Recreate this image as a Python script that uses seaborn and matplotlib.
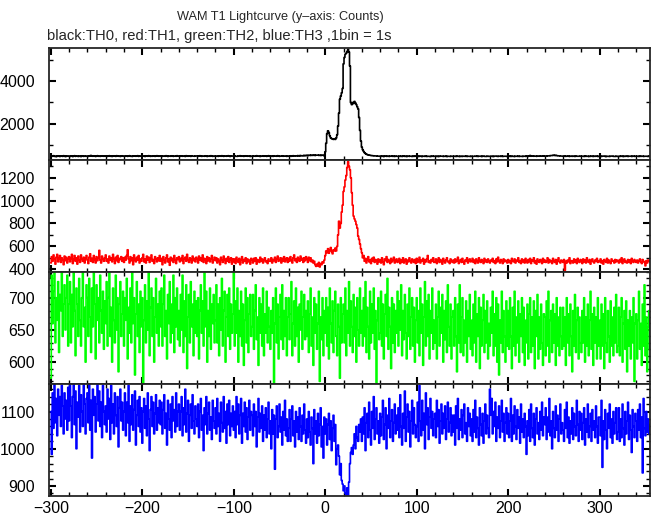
import numpy as np
import pandas as pd
import matplotlib
matplotlib.use("Agg")
import matplotlib.pyplot as plt
from matplotlib.ticker import MultipleLocator
import seaborn as sns

# 1 s bins starting at t = -300 s, 20 bins per row (20 s per row)
t_start = -300
bin_width = 1

th0_black = [
    480, 510, 495, 520, 490, 505, 475, 500, 515, 495, 485, 510, 500, 490, 520, 505, 480, 495, 510, 500,
    495, 485, 515, 500, 480, 505, 520, 490, 500, 510, 485, 495, 505, 480, 515, 500, 490, 510, 495, 505,
    510, 490, 500, 520, 530, 505, 495, 515, 500, 485, 505, 520, 495, 510, 490, 500, 515, 505, 495, 510,
    500, 515, 490, 505, 520, 495, 510, 485, 500, 515, 505, 490, 520, 500, 495, 510, 485, 505, 515, 500,
    505, 495, 515, 500, 490, 510, 520, 495, 505, 485, 500, 515, 510, 495, 505, 520, 490, 500, 510, 495,
    490, 510, 500, 485, 515, 505, 495, 520, 500, 490, 510, 495, 505, 515, 490, 500, 520, 505, 495, 510,
    515, 500, 490, 510, 505, 495, 520, 500, 485, 510, 505, 495, 515, 500, 490, 505, 510, 495, 520, 500,
    500, 490, 515, 505, 495, 510, 500, 485, 520, 505, 495, 510, 500, 490, 515, 505, 500, 495, 510, 505,
    510, 495, 505, 520, 500, 490, 510, 505, 495, 515, 500, 485, 505, 510, 495, 520, 500, 490, 505, 510,
    495, 505, 510, 490, 515, 500, 495, 520, 505, 490, 500, 510, 495, 505, 520, 500, 485, 510, 500, 495,
    505, 515, 495, 500, 490, 510, 505, 520, 495, 500, 510, 490, 505, 515, 500, 495, 510, 500, 485, 505,
    500, 490, 510, 505, 495, 520, 500, 510, 495, 485, 505, 500, 515, 495, 510, 500, 490, 505, 520, 500,
    495, 510, 500, 490, 515, 505, 500, 495, 520, 510, 490, 505, 500, 515, 495, 510, 505, 500, 490, 510,
    505, 500, 515, 495, 510, 520, 500, 505, 515, 510, 525, 505, 520, 530, 515, 510, 525, 535, 520, 530,
    540, 525, 535, 545, 530, 550, 535, 540, 555, 530, 545, 540, 550, 535, 545, 530, 540, 550, 535, 520,
    700, 1100, 1550, 1680, 1600, 1450, 1350, 1320, 1300, 1280, 1310, 1280, 1350, 1500, 1900, 2500, 3150, 3300, 3450, 3650,
    4800, 5100, 5250, 5300, 5380, 5480, 5350, 4700, 3000, 2900, 3000, 2950, 3050, 2980, 2900, 2800, 2700, 2300, 1700, 1200,
    920, 800, 720, 660, 620, 590, 570, 560, 545, 540, 530, 525, 520, 515, 510, 505, 510, 500, 505, 495,
    500, 490, 505, 495, 480, 500, 510, 490, 495, 505, 485, 500, 495, 510, 490, 500, 485, 505, 495, 490,
    495, 505, 490, 500, 485, 495, 510, 490, 500, 480, 495, 505, 490, 500, 495, 485, 500, 490, 505, 495,
    490, 500, 485, 495, 505, 490, 480, 500, 495, 490, 505, 485, 495, 500, 490, 480, 495, 505, 490, 500,
    495, 485, 500, 490, 480, 505, 495, 490, 500, 485, 495, 490, 505, 480, 495, 500, 490, 485, 500, 495,
    490, 500, 495, 485, 505, 490, 495, 480, 500, 490, 485, 500, 495, 490, 505, 485, 495, 500, 490, 485,
    500, 490, 485, 495, 500, 490, 505, 485, 495, 490, 500, 480, 495, 505, 490, 495, 485, 500, 490, 495,
    485, 495, 500, 490, 480, 500, 495, 505, 490, 485, 500, 495, 490, 505, 485, 495, 500, 490, 495, 485,
    495, 490, 505, 485, 500, 490, 495, 480, 500, 495, 490, 505, 485, 495, 500, 490, 485, 500, 495, 490,
    500, 510, 490, 505, 530, 495, 500, 510, 495, 505, 500, 490, 510, 505, 495, 500, 510, 505, 500, 515,
    505, 510, 500, 515, 520, 510, 525, 520, 530, 535, 545, 530, 540, 525, 520, 515, 510, 505, 500, 510,
    500, 495, 505, 490, 500, 495, 510, 485, 500, 505, 490, 495, 500, 485, 505, 495, 490, 500, 495, 505,
    490, 500, 495, 485, 505, 490, 500, 495, 480, 500, 490, 505, 495, 485, 500, 490, 495, 505, 485, 495,
    500, 490, 485, 500, 495, 505, 490, 480, 495, 500, 490, 485, 500, 495, 505, 490, 495, 485, 500, 490,
    495, 485, 500, 490, 505, 495, 480, 500, 490, 495, 505, 485, 495, 490, 500, 485, 495, 505, 490, 500,
    490, 500, 495, 485, 505, 490, 495, 500, 485, 495, 490, 500, 495, 485, 500, 490, 495, 490, 500, 495,
]

th1_red = [
    455, 510, 470, 525, 490, 445, 505, 530, 465, 495, 520, 460, 500, 480, 440, 515, 475, 505, 455, 490,
    510, 465, 495, 530, 450, 485, 520, 470, 500, 445, 515, 480, 460, 525, 490, 470, 505, 455, 495, 520,
    480, 450, 505, 535, 470, 495, 460, 520, 485, 455, 510, 475, 500, 565, 480, 455, 515, 490, 470, 500,
    525, 470, 490, 455, 515, 480, 500, 465, 530, 490, 450, 505, 475, 520, 460, 495, 485, 510, 470, 500,
    460, 505, 480, 520, 570, 490, 455, 510, 475, 500, 440, 525, 485, 465, 505, 480, 520, 455, 490, 470,
    500, 530, 465, 490, 455, 515, 480, 505, 460, 495, 525, 470, 485, 450, 510, 490, 465, 500, 475, 520,
    470, 495, 440, 510, 480, 455, 500, 525, 465, 490, 435, 505, 475, 495, 460, 520, 480, 450, 500, 485,
    510, 465, 495, 475, 520, 450, 490, 505, 470, 530, 480, 460, 500, 485, 455, 515, 475, 495, 465, 505,
    490, 455, 515, 480, 500, 470, 525, 460, 495, 485, 450, 510, 475, 500, 465, 490, 520, 455, 480, 505,
    475, 500, 455, 490, 470, 440, 505, 480, 460, 515, 485, 450, 495, 470, 510, 460, 485, 500, 445, 490,
    465, 490, 450, 505, 475, 460, 495, 440, 480, 510, 455, 485, 470, 500, 450, 490, 465, 480, 445, 495,
    480, 455, 495, 470, 500, 445, 485, 475, 460, 505, 470, 490, 455, 480, 500, 465, 475, 450, 490, 470,
    470, 500, 455, 485, 475, 505, 460, 490, 515, 470, 480, 500, 455, 495, 470, 510, 465, 485, 500, 460,
    495, 470, 510, 480, 455, 500, 525, 475, 490, 460, 505, 485, 470, 515, 480, 495, 460, 500, 475, 510,
    490, 460, 505, 475, 500, 465, 480, 455, 470, 440, 425, 445, 430, 460, 420, 450, 440, 465, 455, 480,
    520, 560, 545, 580, 540, 565, 590, 555, 535, 570, 560, 585, 560, 600, 700, 820, 760, 800, 900, 960,
    1080, 1120, 1180, 1220, 1290, 1340, 1300, 1270, 1200, 1070, 960, 865, 840, 820, 790, 760, 690, 660, 620, 580,
    545, 500, 520, 470, 495, 455, 485, 510, 465, 480, 450, 495, 470, 505, 460, 485, 475, 445, 490, 465,
    480, 455, 500, 465, 440, 490, 475, 510, 460, 485, 470, 450, 495, 465, 480, 505, 455, 475, 490, 460,
    470, 495, 450, 480, 465, 500, 455, 475, 490, 445, 480, 465, 500, 470, 455, 490, 475, 460, 485, 450,
    495, 460, 475, 505, 455, 480, 470, 495, 445, 480, 465, 490, 520, 460, 475, 455, 485, 470, 500, 460,
    465, 490, 450, 475, 500, 460, 485, 470, 445, 495, 475, 455, 480, 500, 465, 470, 450, 490, 475, 460,
    480, 455, 490, 465, 475, 505, 450, 470, 485, 460, 495, 465, 445, 480, 470, 500, 455, 475, 490, 465,
    470, 495, 460, 480, 450, 490, 470, 455, 500, 475, 460, 485, 470, 450, 495, 465, 480, 460, 490, 470,
    455, 480, 470, 495, 460, 475, 450, 490, 465, 505, 470, 455, 485, 475, 450, 490, 465, 480, 470, 455,
    485, 460, 475, 450, 495, 470, 465, 490, 455, 480, 470, 500, 460, 475, 450, 490, 465, 480, 455, 495,
    470, 455, 485, 465, 495, 450, 480, 470, 500, 455, 475, 445, 490, 470, 460, 485, 475, 450, 495, 465,
    480, 460, 470, 500, 455, 485, 465, 475, 450, 495, 470, 460, 485, 445, 475, 500, 465, 455, 480, 470,
    460, 485, 390, 470, 455, 480, 465, 500, 450, 475, 470, 455, 490, 465, 480, 450, 495, 470, 460, 485,
    475, 450, 490, 465, 480, 455, 500, 470, 460, 485, 445, 475, 490, 465, 455, 480, 470, 495, 460, 475,
    465, 490, 455, 475, 445, 485, 470, 460, 495, 455, 480, 465, 450, 490, 470, 475, 455, 485, 465, 480,
    470, 455, 485, 465, 500, 450, 475, 490, 460, 470, 455, 485, 465, 480, 450, 495, 470, 460, 485, 470,
    460, 480, 455, 475, 490, 465, 450, 485, 470, 460, 430, 475, 455, 480, 470, 465, 480, 470, 460, 475,
]

th2_green = [
    575, 735, 660, 710, 740, 630, 700, 665, 725, 615, 705, 680, 740, 640, 690, 720, 650, 700, 735, 625,
    690, 725, 630, 705, 655, 740, 680, 610, 715, 690, 640, 730, 665, 625, 700, 740, 655, 685, 600, 720,
    700, 640, 730, 670, 615, 715, 655, 740, 690, 605, 720, 665, 700, 630, 735, 680, 645, 710, 620, 695,
    660, 725, 625, 700, 740, 640, 685, 600, 715, 665, 630, 735, 650, 700, 585, 690, 725, 640, 675, 710,
    625, 700, 665, 730, 605, 685, 645, 715, 630, 740, 660, 700, 580, 675, 725, 640, 690, 615, 710, 655,
    700, 565, 665, 720, 630, 695, 650, 740, 610, 685, 715, 640, 700, 600, 670, 730, 645, 690, 625, 710,
    655, 715, 625, 690, 735, 640, 680, 605, 705, 660, 725, 630, 690, 645, 735, 615, 700, 655, 715, 635,
    680, 625, 705, 650, 735, 615, 695, 640, 720, 590, 670, 705, 630, 725, 655, 690, 610, 710, 645, 695,
    640, 700, 605, 680, 720, 645, 695, 625, 740, 655, 710, 600, 680, 640, 715, 620, 690, 660, 705, 630,
    665, 720, 630, 690, 610, 700, 650, 730, 625, 680, 710, 600, 670, 705, 640, 715, 620, 690, 645, 675,
    740, 625, 695, 645, 715, 600, 680, 640, 710, 625, 690, 595, 665, 715, 630, 700, 615, 675, 705, 640,
    655, 705, 620, 680, 720, 635, 670, 595, 700, 645, 690, 625, 715, 610, 675, 645, 710, 630, 685, 655,
    620, 680, 645, 700, 565, 660, 715, 630, 690, 605, 670, 705, 635, 720, 620, 680, 640, 700, 610, 670,
    700, 635, 675, 725, 610, 660, 695, 625, 715, 640, 685, 600, 690, 650, 710, 620, 670, 705, 635, 680,
    640, 695, 615, 675, 715, 625, 670, 595, 700, 645, 690, 620, 660, 710, 570, 670, 635, 700, 610, 680,
    645, 700, 625, 685, 605, 715, 660, 630, 695, 615, 680, 710, 640, 610, 690, 655, 575, 700, 630, 675,
    690, 630, 715, 610, 680, 645, 725, 625, 695, 655, 615, 705, 640, 685, 600, 700, 650, 625, 715, 645,
    680, 625, 700, 640, 725, 615, 685, 655, 605, 710, 630, 690, 645, 715, 620, 680, 565, 665, 700, 635,
    645, 710, 625, 690, 605, 675, 705, 640, 730, 620, 685, 655, 590, 700, 630, 690, 615, 680, 645, 710,
    625, 695, 650, 720, 610, 680, 635, 705, 645, 605, 690, 640, 715, 620, 670, 700, 625, 685, 600, 665,
    700, 630, 680, 610, 715, 645, 690, 595, 670, 725, 625, 695, 640, 705, 605, 680, 645, 715, 620, 665,
    630, 690, 605, 670, 710, 625, 685, 645, 705, 600, 680, 635, 695, 615, 720, 655, 625, 690, 605, 670,
    680, 625, 700, 640, 585, 690, 630, 720, 615, 670, 700, 610, 665, 630, 695, 600, 680, 640, 705, 620,
    665, 610, 690, 630, 710, 600, 675, 640, 700, 590, 685, 625, 665, 705, 615, 680, 630, 695, 605, 660,
    625, 685, 645, 710, 610, 675, 625, 700, 600, 690, 580, 665, 630, 710, 615, 680, 640, 600, 695, 625,
    680, 620, 700, 640, 590, 685, 625, 710, 610, 670, 630, 695, 600, 675, 640, 700, 615, 685, 595, 665,
    630, 690, 605, 675, 700, 615, 670, 625, 695, 590, 680, 640, 705, 605, 670, 620, 690, 630, 595, 675,
    670, 610, 695, 625, 710, 600, 665, 680, 615, 690, 630, 675, 595, 700, 625, 670, 610, 685, 640, 620,
    685, 625, 670, 595, 700, 630, 675, 610, 690, 640, 585, 680, 625, 705, 615, 665, 685, 605, 670, 630,
    615, 680, 630, 700, 600, 670, 625, 690, 610, 665, 710, 620, 675, 595, 685, 630, 670, 605, 700, 625,
    665, 605, 690, 625, 675, 590, 700, 630, 615, 680, 640, 600, 695, 625, 670, 610, 685, 630, 705, 615,
    625, 685, 610, 670, 700, 600, 660, 680, 620, 695, 585, 665, 625, 680, 605, 670, 630, 700, 570, 660,
    675, 605, 665, 710, 620, 660, 595, 690, 625, 720, 610, 670, 585, 655, 680, 620, 665, 625, 670, 615,
]

th3_blue = [
    1100, 985, 1150, 1055, 1175, 1070, 1135, 1035, 1160, 1090, 1140, 1060, 1170, 1115, 1040, 1150, 1080, 1130, 1050, 1165,
    1075, 1175, 1115, 1030, 1140, 1175, 1065, 1155, 1000, 1125, 1085, 1170, 1045, 1145, 1100, 1060, 1175, 1120, 1040, 1135,
    1150, 1070, 1175, 1050, 1130, 975, 1160, 1090, 1140, 1045, 1120, 1175, 1075, 1155, 1060, 1125, 1030, 1170, 1100, 1065,
    1115, 1045, 1160, 1080, 1135, 1025, 1170, 1070, 1120, 1040, 1150, 1090, 1060, 1140, 1005, 1110, 1160, 1075, 1125, 1050,
    1100, 1150, 1035, 1125, 1070, 1170, 1020, 1115, 1065, 1145, 1050, 1105, 1155, 1010, 1090, 1130, 1060, 1140, 1045, 1110,
    1015, 1100, 1135, 1055, 1115, 1035, 1150, 1080, 995, 1105, 1140, 1060, 1125, 1040, 1095, 1145, 1050, 1110, 1070, 1130,
    1065, 1125, 1040, 1105, 1145, 1055, 1095, 1010, 1130, 1080, 1050, 1120, 1030, 1140, 1075, 1105, 1045, 1150, 1060, 1100,
    1120, 1050, 1100, 1140, 1035, 1110, 1065, 1160, 1045, 1095, 1130, 1020, 1090, 1120, 1055, 1145, 1075, 1040, 1115, 1080,
    1060, 1120, 1030, 1100, 1135, 1050, 1090, 995, 1110, 1065, 1140, 1040, 1095, 1125, 1050, 1085, 1025, 1130, 1075, 1055,
    1110, 1040, 1135, 1060, 1095, 1020, 1125, 1070, 1045, 1140, 1055, 1100, 1015, 1120, 1065, 1130, 1035, 1095, 1060, 1115,
    1050, 1100, 1030, 1140, 1065, 1120, 1040, 1090, 1135, 1015, 1095, 1060, 1125, 1045, 1110, 1025, 1085, 1130, 1050, 1100,
    1090, 1035, 1120, 1060, 1100, 1005, 1085, 1135, 1045, 1095, 1055, 1115, 1020, 1090, 1050, 1110, 1030, 1080, 1125, 1040,
    1075, 1000, 1105, 1040, 1090, 945, 1080, 1115, 1030, 1060, 1120, 1045, 1085, 1010, 1100, 1050, 1130, 1035, 1080, 1020,
    1055, 1105, 1020, 1080, 1115, 1035, 1075, 1005, 1100, 1045, 1085, 1025, 1110, 1060, 1020, 1090, 1040, 1120, 1050, 1015,
    1080, 1030, 1100, 1045, 1010, 1085, 1055, 960, 1105, 1040, 1075, 1015, 1095, 1035, 1065, 1110, 1005, 1060, 975, 1085,
    1040, 1080, 1010, 1065, 1095, 1025, 1075, 995, 1055, 1090, 1020, 1065, 957, 1000, 1010, 980, 930, 960, 915, 905,
    887, 900, 880, 875, 895, 873, 910, 960, 990, 1003, 985, 1010, 1040, 1000, 1060, 1030, 1020, 1065, 1045, 1080,
    1020, 1085, 1040, 1110, 995, 1070, 1095, 1030, 1125, 1050, 1010, 1100, 1055, 1140, 1025, 1080, 1110, 1040, 1075, 1015,
    1095, 1035, 1085, 1130, 1025, 1065, 1110, 1000, 1090, 1055, 1135, 1030, 1075, 1105, 1020, 1070, 1120, 1040, 1090, 1050,
    1110, 1030, 1145, 1060, 1010, 1095, 1055, 1155, 1020, 1085, 1120, 1045, 1100, 1005, 1075, 1130, 1040, 1110, 1065, 1030,
    1060, 1125, 1020, 1170, 1075, 1035, 1130, 1050, 1095, 1000, 1150, 1065, 1110, 1025, 1085, 1135, 1055, 1100, 1035, 1080,
    1095, 1030, 1130, 1060, 1105, 1015, 1075, 1120, 1040, 1095, 1055, 1115, 1025, 1080, 1125, 1045, 1070, 1110, 1035, 1090,
    1045, 1090, 1010, 1115, 1055, 1135, 1025, 1080, 1050, 1105, 1030, 1090, 1120, 1040, 1070, 1020, 1110, 1060, 1095, 1035,
    1080, 1020, 1105, 1045, 1130, 1030, 1085, 1055, 1010, 1110, 1065, 1035, 1095, 1015, 1075, 1120, 1040, 1090, 1055, 1030,
    1160, 1090, 1135, 1040, 1100, 1060, 1125, 1020, 1085, 1055, 1115, 1030, 1075, 1130, 1045, 1095, 1020, 1070, 1110, 1040,
    1095, 1030, 1075, 1135, 1020, 1090, 1040, 1115, 1060, 1025, 1105, 1055, 1085, 1015, 1120, 1045, 1080, 1030, 1095, 1060,
    985, 1075, 1035, 1105, 1020, 1120, 1055, 1030, 1095, 1010, 1080, 1110, 1040, 1070, 1025, 1100, 1050, 1125, 1035, 1085,
    1065, 1110, 1025, 1085, 1045, 1135, 1035, 1075, 1000, 1100, 1055, 1030, 1115, 1050, 1090, 1020, 1080, 1120, 1040, 1070,
    1050, 1020, 1105, 1055, 1125, 1030, 1085, 1015, 1075, 1040, 1110, 1025, 1095, 1060, 1035, 1130, 1065, 1020, 1100, 1050,
    1095, 1025, 1070, 1110, 1010, 1080, 1045, 1120, 1030, 1060, 1095, 1020, 1105, 1050, 1075, 1030, 1115, 1060, 1015, 1085,
    1085, 1035, 1130, 950, 1075, 1025, 1105, 1050, 1000, 1095, 1055, 1120, 1030, 1080, 1015, 1100, 1040, 1070, 1110, 1025,
    1045, 1110, 1020, 1080, 1030, 1120, 1055, 1010, 1100, 1040, 1075, 1125, 1025, 1090, 1050, 990, 1105, 1060, 1030, 1095,
    1075, 1020, 1105, 1050, 1120, 1030, 1085, 935, 1135, 1055, 1035, 1100, 1045, 1080, 1040, 1065, 1030, 1085, 1055, 1045,
]

series = [th0_black, th1_red, th2_green, th3_blue]
for s in series:
    assert len(s) == 660, len(s)

colors = ["black", "#ff0000", "#00ff00", "#0000ff"]
ylims = [(320, 5540), (376, 1355), (566, 740), (873, 1174)]
y_major = [2000, 200, 50, 100]
y_minor = [1000, 100, 10, 20]
line_w = [1.2, 1.2, 1.2, 1.2]

sns.set_style("ticks")
plt.rcParams["font.family"] = ["Liberation Sans", "DejaVu Sans"]

fig = plt.figure(figsize=(6.52, 5.15), dpi=100)
gs = fig.add_gridspec(4, 1, left=49 / 652, right=650 / 652,
                      top=1 - 48 / 515, bottom=1 - 496 / 515, hspace=0)

for i, (vals, col) in enumerate(zip(series, colors)):
    ax = fig.add_subplot(gs[i])
    t = t_start + bin_width * np.arange(len(vals))
    df = pd.DataFrame({"time": t, "counts": vals})
    sns.lineplot(data=df, x="time", y="counts", ax=ax, color=col,
                 drawstyle="steps-mid", lw=line_w[i], estimator=None)
    ax.set_xlim(-302, 355)
    ax.set_ylim(*ylims[i])
    ax.xaxis.set_major_locator(MultipleLocator(100))
    ax.xaxis.set_minor_locator(MultipleLocator(20))
    ax.yaxis.set_major_locator(MultipleLocator(y_major[i]))
    ax.yaxis.set_minor_locator(MultipleLocator(y_minor[i]))
    ax.tick_params(which="both", direction="in", top=True, right=True,
                   labelsize=11.5, colors="black")
    ax.tick_params(which="major", length=5, width=1.5)
    ax.tick_params(which="minor", length=3, width=1.0)
    ax.tick_params(axis="y", pad=10)
    for sp in ax.spines.values():
        sp.set_linewidth(1.3)
        sp.set_zorder(3)
    ax.set_xlabel("")
    ax.set_ylabel("")
    if i < 3:
        ax.tick_params(labelbottom=False)

fig.text(280 / 652, 1 - 17 / 515, "WAM T1 Lightcurve (y\u2013axis: Counts)",
         ha="center", va="center", fontsize=9.2)
fig.text(47 / 652, 1 - 36 / 515,
         "black:TH0, red:TH1, green:TH2, blue:TH3 ,1bin = 1s",
         ha="left", va="center", fontsize=10.6)

fig.savefig("out.png", dpi=100)
